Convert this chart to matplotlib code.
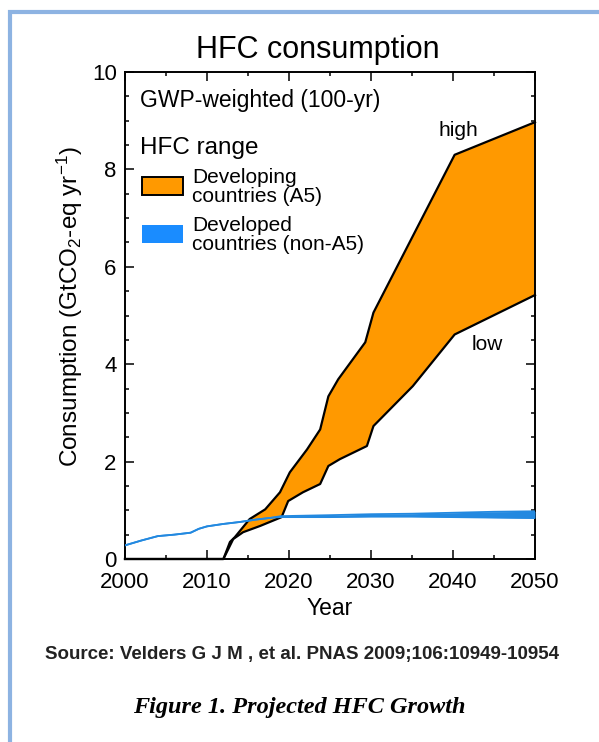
import numpy as np
import matplotlib
matplotlib.use("Agg")
import matplotlib.pyplot as plt
from matplotlib.patches import Rectangle
from matplotlib.lines import Line2D
from matplotlib.ticker import MultipleLocator

plt.rcParams['font.family'] = ['Liberation Sans', 'DejaVu Sans']
plt.rcParams['mathtext.fontset'] = 'custom'
plt.rcParams['mathtext.rm'] = 'Liberation Sans'
plt.rcParams['mathtext.it'] = 'Liberation Sans:italic'

# ---- data ----
high_years = [2000, 2012.0, 2012.8, 2013.4, 2015.2, 2017.1, 2018.9, 2020.1, 2022.2,
              2023.8, 2024.8, 2026.0, 2029.3, 2030.3, 2040.2, 2050]
high_vals = [0.0, 0.0, 0.35, 0.45, 0.82, 1.02, 1.37, 1.78, 2.25,
             2.66, 3.34, 3.69, 4.45, 5.06, 8.30, 8.97]

low_years = [2000, 2012.0, 2013.2, 2014.4, 2016.5, 2019.1, 2019.9, 2021.7, 2023.8,
             2024.8, 2026.2, 2029.5, 2030.3, 2035.1, 2040.2, 2050]
low_vals = [0.0, 0.0, 0.41, 0.55, 0.68, 0.86, 1.19, 1.37, 1.54,
            1.91, 2.05, 2.32, 2.73, 3.55, 4.61, 5.42]

dev_years = [2000, 2002, 2004, 2006, 2008, 2009, 2010, 2012, 2014, 2016, 2018, 2019,
             2025, 2030, 2035, 2040, 2045, 2050]
dev_lower = [0.28, 0.38, 0.47, 0.50, 0.54, 0.62, 0.67, 0.72, 0.76, 0.81, 0.85, 0.86,
             0.86, 0.87, 0.87, 0.86, 0.85, 0.84]
dev_upper = [0.28, 0.38, 0.47, 0.50, 0.54, 0.62, 0.67, 0.72, 0.76, 0.81, 0.85, 0.88,
             0.90, 0.92, 0.93, 0.95, 0.97, 0.98]

x_ticks = [2000, 2010, 2020, 2030, 2040, 2050]
y_ticks = [0, 2, 4, 6, 8, 10]

ORANGE = '#FF9900'
BLUE = '#2389E0'

W, H = 599, 742
fig = plt.figure(figsize=(W / 100, H / 100), dpi=100)
fig.patch.set_facecolor('white')

def px(x, y):
    return x / W, 1 - y / H

# frame border (blue) on left and top
fig.add_artist(Line2D([10 / W, 10 / W, 1.0], [0.0, 1 - 12 / H, 1 - 12 / H],
                      transform=fig.transFigure, color='#8DB3E2', lw=3.0,
                      solid_joinstyle='miter'))

ax_l, ax_r, ax_t, ax_b = 125, 535, 72, 559
ax = fig.add_axes([ax_l / W, 1 - ax_b / H, (ax_r - ax_l) / W, (ax_b - ax_t) / H])

# developing countries range
poly_x = np.concatenate([high_years, low_years[::-1]])
poly_y = np.concatenate([high_vals, low_vals[::-1]])
ax.fill(poly_x, poly_y, facecolor=ORANGE, edgecolor='none', zorder=2)
ax.plot(high_years, high_vals, color='black', lw=1.6, zorder=3, clip_on=False)
ax.plot(low_years, low_vals, color='black', lw=1.6, zorder=3, clip_on=False)

# developed countries band
ax.fill_between(dev_years, dev_lower, dev_upper, color=BLUE, lw=0, zorder=4)
ax.plot(dev_years, dev_lower, color=BLUE, lw=1.3, zorder=4)
ax.plot(dev_years, dev_upper, color=BLUE, lw=1.3, zorder=4)

ax.set_xlim(2000, 2050)
ax.set_ylim(0, 10)
ax.set_xticks(x_ticks)
ax.set_yticks(y_ticks)
ax.xaxis.set_minor_locator(MultipleLocator(5))
ax.yaxis.set_minor_locator(MultipleLocator(0.5))
ax.tick_params(which='both', direction='in', top=True, right=True, width=1.1,
               labelsize=16)
ax.tick_params(axis='x', which='major', pad=9)
ax.tick_params(axis='y', which='major', pad=6)
ax.tick_params(which='major', length=6.5)
ax.tick_params(which='minor', length=3)
for s in ax.spines.values():
    s.set_linewidth(1.4)

ax.set_xlabel('Year', fontsize=16.5, labelpad=3)

# annotations inside axes
def axp(x, y):
    return (x - ax_l) / (ax_r - ax_l), (ax_b - y) / (ax_b - ax_t)

ax.text(*axp(140, 101), 'GWP-weighted (100-yr)', transform=ax.transAxes,
        fontsize=16.5, va='center', ha='left')
ax.text(*axp(140, 148), 'HFC range', transform=ax.transAxes,
        fontsize=17.5, va='center', ha='left')
x0, y0 = axp(142, 195)
x1, y1 = axp(183, 177)
ax.add_patch(Rectangle((x0, y0), x1 - x0, y1 - y0, transform=ax.transAxes,
                       facecolor=ORANGE, edgecolor='black', lw=1.4, zorder=5))
x0, y0 = axp(142, 243)
x1, y1 = axp(183, 225)
ax.add_patch(Rectangle((x0, y0), x1 - x0, y1 - y0, transform=ax.transAxes,
                       facecolor='#1A8CFF', edgecolor='none', zorder=5))
ax.text(*axp(192, 187), 'Developing\ncountries (A5)', transform=ax.transAxes,
        fontsize=15, va='center', ha='left', linespacing=0.95)
ax.text(*axp(192, 235), 'Developed\ncountries (non-A5)', transform=ax.transAxes,
        fontsize=15, va='center', ha='left', linespacing=0.95)
ax.text(*axp(458, 130), 'high', transform=ax.transAxes, fontsize=15,
        va='center', ha='center')
ax.text(*axp(487, 345), 'low', transform=ax.transAxes, fontsize=15,
        va='center', ha='center')

# figure texts
fig.text(*px(318, 50), 'HFC consumption', fontsize=22, ha='center', va='center')
fig.text(*px(70, 307), r'Consumption (GtCO$_2$-eq yr$^{\mathrm{-1}}$)', fontsize=17.5,
         rotation=90, ha='center', va='center')
fig.text(*px(302, 655), 'Source: Velders G J M , et al. PNAS 2009;106:10949-10954',
         fontsize=13.5, ha='center', va='center', color='#222222', weight='bold')
fig.text(*px(299, 708), 'Figure 1. Projected HFC Growth', fontsize=17.5,
         ha='center', va='center', family='Liberation Serif', weight='bold',
         style='italic')

fig.savefig('out.png', dpi=100)
